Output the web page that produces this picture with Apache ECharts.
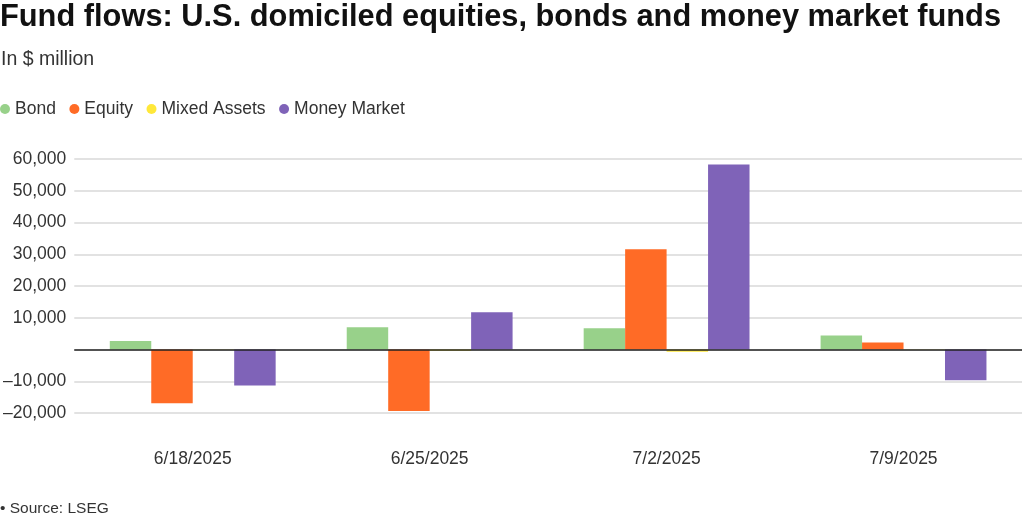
<!DOCTYPE html>
<html><head><meta charset="utf-8">
<script src="https://cdn.jsdelivr.net/npm/echarts@6/dist/echarts.min.js"></script>
<style>html,body{margin:0;padding:0;background:#fff}#c{width:1024px;height:520px}</style>
</head><body><div id="c"></div>
<script>
const categories = ['6/18/2025','6/25/2025','7/2/2025','7/9/2025'];
const bond = [2700, 7000, 6700, 4400];
const equity = [-16900, -19400, 31600, 2200];
const mixedAssets = [-100, -400, -700, 100];
const moneyMarket = [-11300, 11700, 58300, -9700];
const yTicks = [-20000, -10000, 0, 10000, 20000, 30000, 40000, 50000, 60000];

const font = '"Liberation Sans", Arial, Helvetica, sans-serif';
const chart = echarts.init(document.getElementById('c'));
function fmt(v){ if(v===0) return ''; const s=Math.abs(v).toLocaleString('en-US'); return v<0?'\u2013'+s:s; }
chart.setOption({
  animation:false,
  textStyle:{fontFamily:font},
  title:[
    {text:'Fund flows: U.S. domiciled equities, bonds and money market funds', left:0, top:2, padding:0,
     textStyle:{fontFamily:font, fontSize:30.8, fontWeight:'bold', color:'#111'}},
    {text:'In $ million', left:1, top:50, padding:0, textStyle:{fontFamily:font, fontSize:19.5, fontWeight:'normal', color:'#333'}},
    {text:'\u2022 Source: LSEG', left:0, top:501, padding:0, textStyle:{fontFamily:font, fontSize:15.5, fontWeight:'normal', color:'#333'}}
  ],
  legend:{left:0, top:100, padding:0, icon:'circle', itemWidth:10, itemHeight:10, itemGap:13.5,
    textStyle:{fontFamily:font, fontSize:17.5, color:'#333'}},
  grid:{left:73, right:2, top:159, bottom:107},
  xAxis:{type:'category', data:categories, axisLine:{show:false, onZero:false}, axisTick:{show:false},
     axisLabel:{margin:37, fontSize:17.5, color:'#333', fontFamily:font}},
  yAxis:{type:'value', min:yTicks[0], max:yTicks[yTicks.length-1], interval:10000,
    axisLabel:{formatter:fmt, fontSize:17.5, color:'#333', margin:8, fontFamily:font},
    axisLine:{show:false}, axisTick:{show:false},
    splitLine:{lineStyle:{color:'#d9d9d9', width:1.5}}},
  series:[
    {name:'Bond', type:'bar', data:bond, itemStyle:{color:'#98d18a'}, barGap:'0%', barCategoryGap:'30%'},
    {name:'Equity', type:'bar', data:equity, itemStyle:{color:'#ff6b26'}},
    {name:'Mixed Assets', type:'bar', data:mixedAssets, itemStyle:{color:'#ffe83a'}},
    {name:'Money Market', type:'bar', data:moneyMarket, itemStyle:{color:'#7f63b8'},
     markLine:{silent:true, symbol:'none', label:{show:false}, lineStyle:{color:'#222', width:1.5, type:'solid'},
       data:[{yAxis:0}], z:10}}
  ]
});
</script></body></html>
